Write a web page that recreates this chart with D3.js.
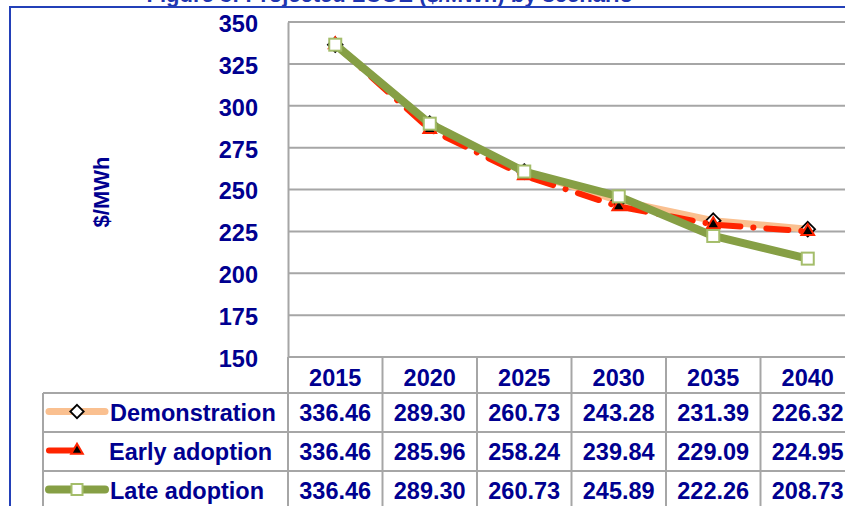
<!DOCTYPE html>
<html lang="en">
<head>
    <meta charset="utf-8">
    <script src="https://d3js.org/d3.v7.min.js"></script>
    <style>
        body { margin: 0; background: #fff; }
        svg { display: block; font-family: Arial, "Liberation Sans", sans-serif; }
    </style>
</head>
<body>
    <svg></svg>
    <script>
        // data
        const years = ['2015', '2020', '2025', '2030', '2035', '2040']
        const seriesNames = ['Demonstration', 'Early adoption', 'Late adoption']
        const demonstration = [336.46, 289.30, 260.73, 243.28, 231.39, 226.32]
        const earlyAdoption = [336.46, 285.96, 258.24, 239.84, 229.09, 224.95]
        const lateAdoption = [336.46, 289.30, 260.73, 245.89, 222.26, 208.73]
        const yTicks = [150, 175, 200, 225, 250, 275, 300, 325, 350]

        const W = 845, H = 506
        const NAVY = '#000090'
        const GRID = '#a6a6a6'

        const series = [
            { name: seriesNames[0], values: demonstration, color: '#fac090', width: 7, dash: null, marker: 'diamond' },
            { name: seriesNames[1], values: earlyAdoption, color: '#ff2400', width: 6, dash: '22,13,0.1,13', marker: 'triangle' },
            { name: seriesNames[2], values: lateAdoption, color: '#869f45', width: 8, dash: null, marker: 'square' }
        ]

        const svg = d3.select('svg')
            .attr('width', W)
            .attr('height', H)

        // caption, cut off at the top edge as in the source
        svg.append('text')
            .attr('x', 633)
            .attr('y', 1.5)
            .attr('text-anchor', 'end')
            .attr('font-size', 22)
            .attr('font-weight', 'bold')
            .attr('fill', '#1f35b0')
            .text('Figure 3: Projected LCOE ($/MWh) by scenario')

        // blue frame
        svg.append('path')
            .attr('d', `M10,${H + 2}V7H${W + 2}`)
            .attr('fill', 'none')
            .attr('stroke', '#2340b8')
            .attr('stroke-width', 2)

        const x = d3.scaleBand()
            .domain(years)
            .range([288, 288 + 6 * 94.5])
        const y = d3.scaleLinear()
            .domain([150, 350])
            .range([357, 22])

        // gridlines
        svg.append('g')
            .selectAll('line')
            .data(yTicks.slice(1))
            .enter()
            .append('line')
            .attr('x1', 288)
            .attr('x2', W + 5)
            .attr('y1', d => y(d))
            .attr('y2', d => y(d))
            .attr('stroke', GRID)
            .attr('stroke-width', 2)

        // y axis
        const yAxis = svg.append('g')
            .attr('transform', 'translate(288,0)')
            .call(d3.axisLeft(y).tickValues(yTicks).tickSize(0).tickPadding(30))
        yAxis.select('.domain')
            .attr('stroke', GRID)
            .attr('stroke-width', 2)
        yAxis.selectAll('text')
            .attr('font-size', 23.5)
            .attr('font-weight', 'bold')
            .attr('font-family', 'Arial, "Liberation Sans", sans-serif')
            .attr('fill', NAVY)
            .attr('dy', '0.4em')

        svg.append('text')
            .attr('transform', 'translate(109,192) rotate(-90)')
            .attr('text-anchor', 'middle')
            .attr('font-size', 22)
            .attr('font-weight', 'bold')
            .attr('fill', NAVY)
            .text('$/MWh')

        // lines and markers
        const cx = d => x(d) + x.bandwidth() / 2
        const line = d3.line()
            .x((d, i) => cx(years[i]))
            .y(d => y(d))

        function marker(sel, type, size) {
            if (type === 'diamond') {
                sel.append('path')
                    .attr('d', d3.symbol(d3.symbolDiamond2, size * size * 0.95)())
                    .attr('fill', '#fff')
                    .attr('stroke', '#000')
                    .attr('stroke-width', 1.8)
            } else if (type === 'triangle') {
                sel.append('path')
                    .attr('d', d3.symbol(d3.symbolTriangle2, size * size * 0.8)())
                    .attr('fill', '#000')
                    .attr('stroke', '#ff2400')
                    .attr('stroke-width', 2)
            } else {
                sel.append('rect')
                    .attr('x', -size / 2)
                    .attr('y', -size / 2)
                    .attr('width', size)
                    .attr('height', size)
                    .attr('fill', '#fff')
                    .attr('stroke', '#a4bd6a')
                    .attr('stroke-width', 2)
            }
        }

        for (const s of series) {
            svg.append('path')
                .datum(s.values)
                .attr('d', line)
                .attr('fill', 'none')
                .attr('stroke', s.color)
                .attr('stroke-width', s.width)
                .attr('stroke-linecap', 'round')
                .attr('stroke-linejoin', 'round')
                .attr('stroke-dasharray', s.dash)
            svg.append('g')
                .selectAll('g')
                .data(s.values)
                .enter()
                .append('g')
                .attr('transform', (d, i) => `translate(${cx(years[i])},${y(d)})`)
                .each(function () { marker(d3.select(this), s.marker, 12) })
        }

        // data table
        const rowTop = 393, rowH = 39, headTop = 357
        const table = svg.append('g')
        const colEdges = years.map(d => x(d)).concat([x.range()[1]])

        // header
        table.append('line')
            .attr('x1', 288).attr('x2', W + 5)
            .attr('y1', headTop).attr('y2', headTop)
            .attr('stroke', GRID).attr('stroke-width', 2)
        table.selectAll('.yr')
            .data(years)
            .enter()
            .append('text')
            .attr('x', d => cx(d))
            .attr('y', headTop + 29)
            .attr('text-anchor', 'middle')
            .attr('font-size', 23.5)
            .attr('font-weight', 'bold')
            .attr('fill', NAVY)
            .text(d => d)

        // horizontal rules
        table.selectAll('.hr')
            .data(d3.range(4))
            .enter()
            .append('line')
            .attr('x1', 43).attr('x2', W + 5)
            .attr('y1', i => rowTop + i * rowH)
            .attr('y2', i => rowTop + i * rowH)
            .attr('stroke', GRID).attr('stroke-width', 2)

        // vertical rules
        table.selectAll('.vr')
            .data(colEdges)
            .enter()
            .append('line')
            .attr('x1', d => d).attr('x2', d => d)
            .attr('y1', headTop).attr('y2', H + 5)
            .attr('stroke', GRID).attr('stroke-width', 2)
        table.append('line')
            .attr('x1', 43).attr('x2', 43)
            .attr('y1', rowTop).attr('y2', H + 5)
            .attr('stroke', GRID).attr('stroke-width', 2)

        series.forEach((s, r) => {
            const mid = rowTop + r * rowH + rowH / 2
            const g = table.append('g')
            // legend key
            const keyEnd = s.marker === 'triangle' ? 76 : 105
            g.append('line')
                .attr('x1', 49).attr('x2', keyEnd)
                .attr('y1', mid - 1).attr('y2', mid - 1)
                .attr('stroke', s.color)
                .attr('stroke-width', s.width)
                .attr('stroke-linecap', 'round')
            const mk = g.append('g').attr('transform', `translate(77,${mid - 1})`)
            marker(mk, s.marker, 11)
            g.append('text')
                .attr('x', s.marker === 'triangle' ? 109 : 110)
                .attr('y', mid + 8)
                .attr('font-size', 23.5)
                .attr('font-weight', 'bold')
                .attr('fill', NAVY)
                .text(s.name)
            g.selectAll('.v')
                .data(s.values)
                .enter()
                .append('text')
                .attr('x', (d, i) => cx(years[i]))
                .attr('y', mid + 8)
                .attr('text-anchor', 'middle')
                .attr('font-size', 23.5)
                .attr('font-weight', 'bold')
                .attr('fill', NAVY)
                .text(d => d.toFixed(2))
        })
    </script>
</body>
</html>
